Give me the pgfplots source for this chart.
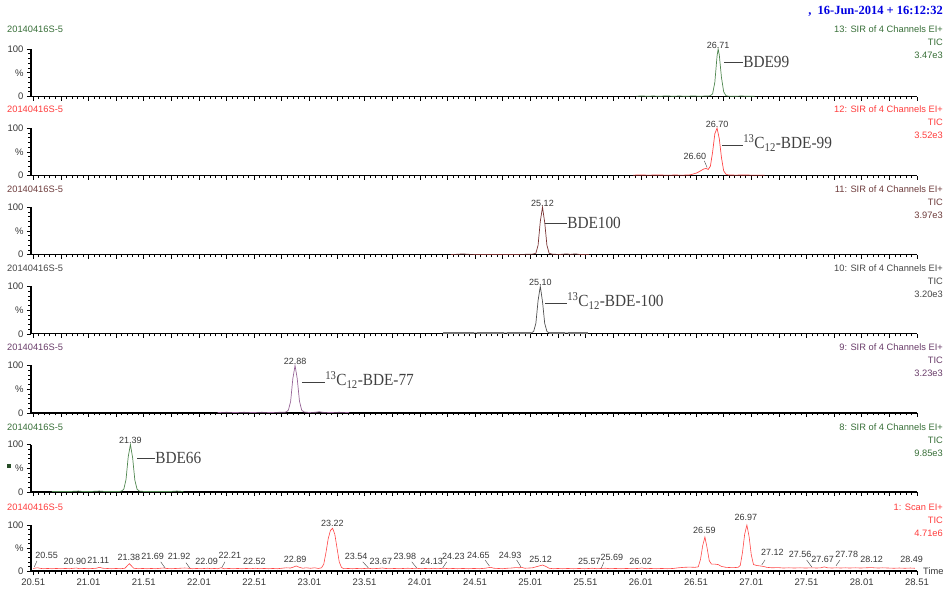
\documentclass[border=0pt]{standalone}
\usepackage{fontspec}
\setmainfont{Liberation Sans}
\newfontfamily\timesf{Liberation Serif}
\usepackage{pgfplots}
\pgfplotsset{compat=1.18}

\definecolor{labgray}{RGB}{55,55,55}
\definecolor{gline}{RGB}{80,135,80}
\definecolor{gtext}{RGB}{55,110,55}
\definecolor{rline}{RGB}{255,70,70}
\definecolor{rtext}{RGB}{255,60,60}
\definecolor{mline}{RGB}{120,50,50}
\definecolor{mtext}{RGB}{110,60,60}
\definecolor{kline}{RGB}{80,80,80}
\definecolor{ktext}{RGB}{70,70,70}
\definecolor{pline}{RGB}{150,100,150}
\definecolor{ptext}{RGB}{105,60,105}
\definecolor{datblue}{RGB}{0,0,225}

\pgfplotsset{
  chrom/.style={
    scale only axis, width=886pt, height=47.5pt, anchor=south west,
    xmin=20.49, xmax=28.51, ymin=0, ymax=100,
    axis x line*=bottom, axis y line*=left,
    axis line style={line width=1.2pt, black},
    tick align=outside, major tick length=4pt, minor tick length=2.5pt,
    tick style={black, line width=0.6pt},
    xtick={20.51,21.01,21.51,22.01,22.51,23.01,23.51,24.01,24.51,25.01,25.51,26.01,26.51,27.01,27.51,28.01,28.51},
    xticklabels={},
    extra x ticks={20.76,21.26,21.76,22.26,22.76,23.26,23.76,24.26,24.76,25.26,25.76,26.26,26.76,27.26,27.76,28.26},
    extra x tick labels={},
    minor x tick num=9,
    ytick={0,50,100}, yticklabels={0,\%,100}, minor y tick num=4,
    ticklabel style={font=\fontsize{9.5}{10}\selectfont, text=labgray},
    clip=false,
    every axis plot/.append style={line width=0.7pt},
  }
}
\tikzset{
  pk/.style={font=\fontsize{9}{10}\selectfont, text=labgray, inner sep=0pt},
  nm/.style={anchor=west, inner sep=0pt, font=\timesf\fontsize{17}{17}\selectfont},
  ld/.style={black!75, line width=0.6pt},
  sm/.style={inner sep=0pt, font=\fontsize{9.3}{10}\selectfont},
}
\newcommand{\nmtxt}[1]{\scalebox{0.9}[1]{#1}}

\begin{document}
\begin{tikzpicture}
\useasboundingbox (0pt,0pt) rectangle (944pt,-590pt);

% 13: BDE99
\begin{axis}[chrom, at={(31pt,-96.5pt)}]
\addplot[gline] coordinates {(25.97,0.6)(26.02,1.2)(26.07,0.5)(26.12,1.0)(26.18,0.5)(26.24,1.2)(26.30,0.6)(26.36,1.0)(26.42,0.5)(26.48,1.1)(26.54,0.6)(26.60,1.0)(26.64,1.5)(26.66,6)(26.68,30)(26.70,85)(26.71,100)(26.72,88)(26.74,40)(26.76,10)(26.78,2)(26.80,0.8)(26.86,0.5)(26.92,1.0)(26.98,0.5)(27.04,0.6)};
\node[pk, anchor=south] at (26.71,101.5) {26.71};
\draw[ld] (26.763,72.6) -- (26.935,72.6) node[nm] {\nmtxt{BDE99}};
\end{axis}

% 12: 13C12-BDE-99
\begin{axis}[chrom, at={(31pt,-175.6pt)}]
\addplot[rline] coordinates {(25.94,1)(26.00,1.2)(26.08,1)(26.16,1.2)(26.24,1)(26.32,1.1)(26.40,1)(26.45,1.5)(26.48,3)(26.52,6)(26.55,10)(26.58,14)(26.60,15)(26.62,13)(26.64,20)(26.66,50)(26.68,88)(26.70,100)(26.72,78)(26.74,38)(26.76,10)(26.78,3)(26.80,1.5)(26.86,1)(26.94,1.2)(27.02,1)(27.13,1)};
\node[pk, anchor=south] at (26.70,101.5) {26.70};
\node[pk] at (26.50,41) {26.60};
\draw[ld, line width=0.4pt] (26.585,31) -- (26.61,17);
\draw[ld] (26.745,64.4) -- (26.935,64.4) node[nm, yshift=2pt] {\nmtxt{\textsuperscript{13}C\textsubscript{12}-BDE-99}};
\end{axis}

% 11: BDE100
\begin{axis}[chrom, at={(31pt,-254.7pt)}]
\addplot[mline] coordinates {(24.29,0.5)(24.35,0.8)(24.40,1.8)(24.44,0.8)(24.55,0.5)(24.70,0.6)(24.85,0.5)(24.98,0.8)(25.03,1.2)(25.06,3)(25.08,20)(25.10,70)(25.12,100)(25.14,68)(25.16,20)(25.18,3)(25.21,1)(25.28,0.5)(25.34,1.8)(25.37,0.6)(25.42,1.8)(25.45,0.6)(25.54,0.5)};
\node[pk, anchor=south] at (25.12,101.5) {25.12};
\draw[ld] (25.143,66.7) -- (25.342,66.7) node[nm] {\nmtxt{BDE100}};
\end{axis}

% 10: 13C12-BDE-100
\begin{axis}[chrom, at={(31pt,-333.8pt)}]
\addplot[kline!70!white, line width=1.8pt, unbounded coords=jump] coordinates {(24.22,1.5)(24.50,1.5)(24.51,nan)(24.53,1.5)(24.77,1.5)(24.78,nan)(24.80,1.5)(25.02,1.5)(25.03,nan)(25.18,1.5)(25.32,1.5)(25.33,nan)(25.35,1.5)(25.53,1.5)};
\addplot[kline] coordinates {(24.22,1.5)(24.30,1.8)(24.38,1.5)(24.46,1.8)(24.54,1.5)(24.62,1.8)(24.70,1.5)(24.78,1.8)(24.86,1.5)(24.94,1.8)(25.00,1.5)(25.02,2)(25.04,5)(25.06,22)(25.08,70)(25.10,100)(25.12,68)(25.14,22)(25.16,5)(25.18,2)(25.22,1.5)(25.30,1.8)(25.38,1.5)(25.46,1.8)(25.53,1.5)};
\node[pk, anchor=south] at (25.10,101.5) {25.10};
\draw[ld] (25.143,64.8) -- (25.342,64.8) node[nm, yshift=2pt] {\nmtxt{\textsuperscript{13}C\textsubscript{12}-BDE-100}};
\end{axis}

% 9: 13C12-BDE-77
\begin{axis}[chrom, at={(31pt,-412.9pt)}]
\addplot[pline] coordinates {(22.18,1)(22.26,1.2)(22.34,1)(22.42,1.2)(22.50,1)(22.58,1.2)(22.66,1)(22.74,1.2)(22.78,1.2)(22.80,2)(22.82,6)(22.84,24)(22.86,72)(22.88,100)(22.90,72)(22.92,25)(22.94,6)(22.96,2)(23.00,1)(23.06,1.2)(23.10,2.5)(23.13,1.2)(23.20,1)(23.28,1.2)(23.37,1)};
\node[pk, anchor=south] at (22.88,101.5) {22.88};
\draw[ld] (22.943,65) -- (23.151,65) node[nm, yshift=2pt] {\nmtxt{\textsuperscript{13}C\textsubscript{12}-BDE-77}};
\end{axis}

% 8: BDE66
\begin{axis}[chrom, at={(31pt,-492pt)}]
\addplot[gline] coordinates {(20.68,1)(20.76,1.2)(20.84,1)(20.92,2)(20.96,1)(21.04,1.2)(21.11,2)(21.16,1)(21.24,1.2)(21.29,1.2)(21.31,2)(21.33,6)(21.35,26)(21.37,74)(21.39,100)(21.41,72)(21.43,25)(21.45,6)(21.47,2)(21.52,1)(21.60,1.2)(21.68,1)(21.76,1.2)(21.81,2)(21.87,1)};
\node[pk, anchor=south] at (21.39,101.5) {21.39};
\draw[ld] (21.45,71.6) -- (21.613,71.6) node[nm] {\nmtxt{BDE66}};
\end{axis}

% 1: Scan EI+ TIC
\begin{axis}[chrom, at={(31pt,-571pt)}, height=46pt,
  xticklabels={20.51,21.01,21.51,22.01,22.51,23.01,23.51,24.01,24.51,25.01,25.51,26.01,26.51,27.01,27.51,28.01,28.51}]
\addplot[rline, line width=0.6pt] coordinates {(20.51,5.5)(20.53,6.5)(20.55,7)(20.57,6)(20.60,5)(20.64,5.5)(20.68,5)(20.72,5.5)(20.76,5)(20.80,5.5)(20.84,5)(20.88,6)(20.90,6.5)(20.93,5)(20.97,5.5)(21.01,5)(21.05,5.5)(21.08,6)(21.11,8)(21.14,6)(21.18,5.5)(21.22,5)(21.26,5.5)(21.30,5)(21.34,6)(21.36,11)(21.38,16)(21.40,11)(21.42,6)(21.46,5)(21.50,5.5)(21.54,5)(21.58,5.5)(21.62,5)(21.66,6)(21.69,6.5)(21.72,5.5)(21.76,5)(21.80,5.5)(21.84,6)(21.88,6.5)(21.92,6)(21.95,5)(21.99,5.5)(22.03,5)(22.06,5.5)(22.09,6)(22.12,5)(22.15,5.5)(22.18,5)(22.21,7)(22.24,5)(22.28,5.5)(22.32,5)(22.36,5.5)(22.40,5)(22.44,5.5)(22.48,5)(22.52,6)(22.56,5)(22.60,5.5)(22.64,5)(22.68,5.5)(22.72,5)(22.76,6)(22.80,7)(22.84,6.5)(22.87,9)(22.89,11)(22.92,8)(22.95,6)(22.98,7)(23.02,6)(23.06,7)(23.09,5.5)(23.12,7)(23.14,15)(23.16,40)(23.18,70)(23.20,88)(23.22,93)(23.24,80)(23.26,50)(23.28,20)(23.30,8)(23.32,5)(23.36,5.5)(23.40,5)(23.44,5.5)(23.48,5)(23.51,5.5)(23.54,6)(23.58,5)(23.62,5.5)(23.65,6)(23.67,6.5)(23.70,5.5)(23.74,5)(23.78,5.5)(23.82,5)(23.86,5.5)(23.90,6)(23.94,5.5)(23.98,6)(24.02,5)(24.06,5.5)(24.10,5)(24.13,6)(24.16,5)(24.20,5.5)(24.23,6)(24.27,5)(24.31,5.5)(24.35,5)(24.40,5.5)(24.45,5)(24.50,5.5)(24.55,5)(24.60,6)(24.65,8)(24.68,6)(24.72,5.5)(24.76,5)(24.80,6)(24.84,6.5)(24.88,7.5)(24.91,7)(24.93,8)(24.96,6)(25.00,6.5)(25.03,7)(25.06,9)(25.09,11)(25.12,13)(25.15,10)(25.18,6)(25.22,5)(25.26,5.5)(25.30,5)(25.35,5.5)(25.40,5)(25.45,5.5)(25.50,5)(25.54,5.5)(25.57,6)(25.61,5)(25.65,5.5)(25.69,6)(25.73,5)(25.78,5.5)(25.83,5)(25.88,5.5)(25.93,5)(25.98,5.5)(26.02,6.5)(26.06,5)(26.10,5.5)(26.15,5)(26.20,5.5)(26.25,5)(26.30,5.5)(26.35,7)(26.40,8)(26.45,8.5)(26.50,8)(26.53,9)(26.55,25)(26.57,55)(26.59,74)(26.61,50)(26.63,22)(26.65,15)(26.68,15)(26.71,14)(26.74,10)(26.78,8)(26.82,7.5)(26.86,7.5)(26.89,8)(26.91,12)(26.93,40)(26.95,80)(26.97,100)(26.99,75)(27.01,35)(27.03,14)(27.06,12)(27.09,11)(27.12,10)(27.15,8)(27.20,7)(27.25,7.5)(27.30,6.5)(27.35,7)(27.40,6.5)(27.45,7)(27.50,6.5)(27.56,7)(27.60,6.5)(27.64,7)(27.67,9)(27.70,7)(27.74,6.5)(27.78,7)(27.82,6.5)(27.86,7)(27.90,6.5)(27.95,7)(28.00,6.5)(28.05,7)(28.10,7.5)(28.12,7)(28.16,6.5)(28.20,7)(28.25,6.5)(28.30,6)(28.35,6.5)(28.40,6)(28.45,6.5)(28.49,6)};
\node[pk] at (20.632,34.8) {20.55};
\draw[ld, line width=0.4pt] (20.544,22) -- (20.52,9);
\node[pk] at (20.888,21.7) {20.90};
\node[pk] at (21.099,23.9) {21.11};
\node[pk] at (21.377,29.7) {21.38};
\node[pk] at (21.592,31) {21.69};
\draw[ld, line width=0.4pt] (21.664,20) -- (21.703,7);
\node[pk] at (21.830,31) {21.92};
\draw[ld, line width=0.4pt] (21.893,18) -- (21.929,6);
\node[pk] at (22.08,20.2) {22.09};
\node[pk] at (22.291,33) {22.21};
\draw[ld, line width=0.4pt] (22.246,20) -- (22.216,7);
\node[pk] at (22.511,20) {22.52};
\node[pk] at (22.88,25.4) {22.89};
\node[pk] at (23.217,103.6) {23.22};
\node[pk] at (23.432,31) {23.54};
\draw[ld, line width=0.4pt] (23.493,20) -- (23.543,7);
\node[pk] at (23.658,21.7) {23.67};
\node[pk] at (23.875,32.6) {23.98};
\draw[ld, line width=0.4pt] (23.936,20) -- (23.981,7);
\node[pk] at (24.117,21.7) {24.13};
\node[pk] at (24.313,32.6) {24.23};
\draw[ld, line width=0.4pt] (24.253,20) -- (24.217,7);
\node[pk] at (24.539,34.8) {24.65};
\draw[ld, line width=0.4pt] (24.60,24) -- (24.639,11);
\node[pk] at (24.826,34.8) {24.93};
\draw[ld, line width=0.4pt] (24.886,24) -- (24.925,9);
\node[pk] at (25.104,26) {25.12};
\node[pk] at (25.544,20) {25.57};
\node[pk] at (25.749,30) {25.69};
\draw[ld, line width=0.4pt] (25.677,20) -- (25.652,6);
\node[pk] at (26.009,21.7) {26.02};
\node[pk] at (26.585,89) {26.59};
\node[pk] at (26.962,116.7) {26.97};
\node[pk] at (27.20,39.8) {27.12};
\draw[ld, line width=0.4pt] (27.134,24) -- (27.104,13);
\node[pk] at (27.451,36.3) {27.56};
\draw[ld, line width=0.4pt] (27.511,24) -- (27.557,9);
\node[pk] at (27.656,26) {27.67};
\node[pk] at (27.874,36.3) {27.78};
\draw[ld, line width=0.4pt] (27.813,24) -- (27.777,11.5);
\node[pk] at (28.10,25.4) {28.12};
\node[pk] at (28.462,25.4) {28.49};
\end{axis}

% panel titles
\node[sm, anchor=west, text=gtext] at (7pt,-29pt) {20140416S-5};
\node[sm, anchor=west, text=rtext] at (7pt,-109pt) {20140416S-5};
\node[sm, anchor=west, text=mtext] at (7pt,-189pt) {20140416S-5};
\node[sm, anchor=west, text=ktext] at (7pt,-268pt) {20140416S-5};
\node[sm, anchor=west, text=ptext] at (7pt,-347pt) {20140416S-5};
\node[sm, anchor=west, text=gtext] at (7pt,-427pt) {20140416S-5};
\node[sm, anchor=west, text=rtext] at (7pt,-507pt) {20140416S-5};

\node[sm, anchor=east, text=gtext] at (943pt,-29pt) {13: SIR of 4 Channels EI+};
\node[sm, anchor=east, text=gtext] at (943pt,-42pt) {TIC};
\node[sm, anchor=east, text=gtext] at (943pt,-55pt) {3.47e3};
\node[sm, anchor=east, text=rtext] at (943pt,-109pt) {12: SIR of 4 Channels EI+};
\node[sm, anchor=east, text=rtext] at (943pt,-122pt) {TIC};
\node[sm, anchor=east, text=rtext] at (943pt,-135pt) {3.52e3};
\node[sm, anchor=east, text=mtext] at (943pt,-189pt) {11: SIR of 4 Channels EI+};
\node[sm, anchor=east, text=mtext] at (943pt,-202pt) {TIC};
\node[sm, anchor=east, text=mtext] at (943pt,-215pt) {3.97e3};
\node[sm, anchor=east, text=ktext] at (943pt,-268pt) {10: SIR of 4 Channels EI+};
\node[sm, anchor=east, text=ktext] at (943pt,-281pt) {TIC};
\node[sm, anchor=east, text=ktext] at (943pt,-294pt) {3.20e3};
\node[sm, anchor=east, text=ptext] at (943pt,-347pt) {9: SIR of 4 Channels EI+};
\node[sm, anchor=east, text=ptext] at (943pt,-360pt) {TIC};
\node[sm, anchor=east, text=ptext] at (943pt,-373pt) {3.23e3};
\node[sm, anchor=east, text=gtext] at (943pt,-427pt) {8: SIR of 4 Channels EI+};
\node[sm, anchor=east, text=gtext] at (943pt,-440pt) {TIC};
\node[sm, anchor=east, text=gtext] at (943pt,-453pt) {9.85e3};
\node[sm, anchor=east, text=rtext] at (943pt,-507pt) {1: Scan EI+};
\node[sm, anchor=east, text=rtext] at (943pt,-520pt) {TIC};
\node[sm, anchor=east, text=rtext] at (943pt,-533pt) {4.71e6};

\node[sm, anchor=west, text=labgray] at (923pt,-571pt) {Time};
\node[inner sep=0pt, fill=gtext!70!black, minimum size=4.5pt] at (9pt,-466pt) {};
\node[anchor=east, inner sep=0pt, text=datblue, font=\timesf\bfseries\fontsize{12.5}{13}\selectfont] at (943pt,-11pt) {,\ \ 16-Jun-2014 + 16:12:32};
\end{tikzpicture}
\end{document}
